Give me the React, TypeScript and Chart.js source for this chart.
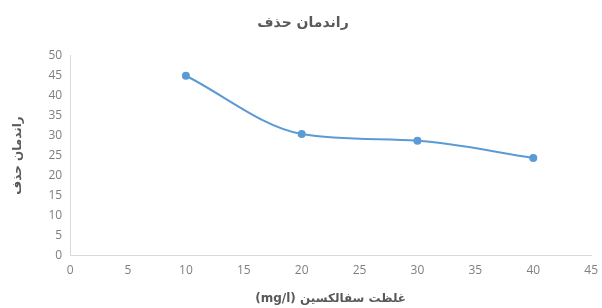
import React, { useEffect, useRef } from "react";
import { Chart, registerables } from "chart.js";

Chart.register(...registerables);

const concentrations = [10, 20, 30, 40];
const removalEfficiency = [45, 30.4, 28.7, 24.4];
const chartTitle = "راندمان حذف";
const xAxisTitle = "(mg/l) غلظت سفالکسین";
const yAxisTitle = "راندمان حذف";
const xTicks = { min: 0, max: 45, step: 5 };
const yTicks = { min: 0, max: 50, step: 5 };

export default function App() {
  const ref = useRef<HTMLCanvasElement | null>(null);
  useEffect(() => {
    if (!ref.current) return;
    const tickColor = "#7f7f7f";
    const chart = new Chart(ref.current, {
      type: "line",
      data: {
        datasets: [
          {
            data: concentrations.map((x, i) => ({ x, y: removalEfficiency[i] })),
            borderColor: "#5B9BD5",
            backgroundColor: "#5B9BD5",
            borderWidth: 2,
            pointRadius: 4,
            pointBorderWidth: 0,
            tension: 0.4,
            cubicInterpolationMode: "monotone",
          },
        ],
      },
      options: {
        animation: false,
        responsive: false,
        layout: { padding: { top: 7, right: 0, left: 0, bottom: 0 } },
        plugins: {
          legend: { display: false },
          tooltip: { enabled: false },
          title: {
            display: true,
            text: chartTitle,
            color: "#595959",
            font: { family: "DejaVu Sans", size: 14, weight: "bold" },
            padding: { top: 8, bottom: 24 },
          },
        },
        scales: {
          x: {
            type: "linear",
            min: xTicks.min,
            max: xTicks.max,
            grid: { display: false, drawTicks: false },
            border: { display: true, color: "#d9d9d9", width: 1 },
            ticks: {
              stepSize: xTicks.step,
              color: tickColor,
              font: { family: "Open Sans", size: 12 },
              padding: 8,
            },
            title: {
              display: true,
              text: xAxisTitle,
              color: "#595959",
              font: { family: "DejaVu Sans", size: 12, weight: "bold" },
              padding: { top: 6, bottom: 2 },
            },
          },
          y: {
            type: "linear",
            min: yTicks.min,
            max: yTicks.max,
            grid: { display: false, drawTicks: false },
            border: { display: true, color: "#d9d9d9", width: 1 },
            ticks: {
              stepSize: yTicks.step,
              color: tickColor,
              font: { family: "Open Sans", size: 12 },
              padding: 8,
            },
            title: {
              display: true,
              text: yAxisTitle,
              color: "#595959",
              font: { family: "DejaVu Sans", size: 12, weight: "bold" },
              padding: { top: 11, bottom: 15 },
            },
          },
        },
      },
    });
    return () => chart.destroy();
  }, []);
  return (
    <div style={{ position: "absolute", left: 0, top: 0, width: 602, height: 308, background: "#fff", overflow: "hidden" }}>
      <canvas ref={ref} width={606} height={308} />
    </div>
  );
}
